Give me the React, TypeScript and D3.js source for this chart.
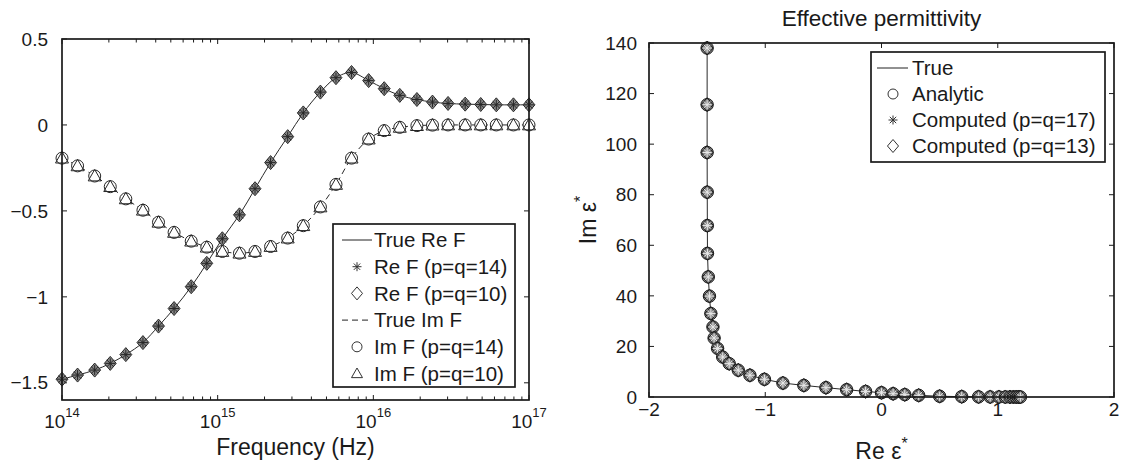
import React, { useRef, useEffect } from "react";
import * as d3 from "d3";

// left panel: log10 of frequency (Hz) at the sample points
const freqExp = [
  14.0, 14.1, 14.21, 14.31, 14.41, 14.52, 14.62, 14.72, 14.83, 14.93,
  15.03, 15.14, 15.24, 15.34, 15.45, 15.55, 15.66, 15.76, 15.86, 15.97,
  16.07, 16.17, 16.28, 16.38, 16.48, 16.59, 16.69, 16.79, 16.9, 17.0,
];
const reF = [
  -1.479, -1.455, -1.426, -1.387, -1.336, -1.266, -1.17, -1.068, -0.941, -0.805,
  -0.662, -0.523, -0.371, -0.219, -0.068, 0.07, 0.191, 0.275, 0.305, 0.258,
  0.211, 0.172, 0.148, 0.133, 0.125, 0.121, 0.119, 0.117, 0.117, 0.117,
];
const imF = [
  -0.193, -0.238, -0.297, -0.359, -0.43, -0.496, -0.566, -0.625, -0.676, -0.711,
  -0.736, -0.746, -0.736, -0.707, -0.658, -0.586, -0.477, -0.346, -0.193, -0.082,
  -0.033, -0.014, -0.004, -0.001, 0.0, 0.0, 0.0, 0.0, 0.0, 0.0,
];

// right panel: effective permittivity
const reEps = [
  -1.5, -1.5, -1.5, -1.499, -1.498, -1.497, -1.49, -1.48, -1.468, -1.45,
  -1.44, -1.41, -1.366, -1.31, -1.232, -1.132, -1.007, -0.848, -0.668, -0.478,
  -0.3, -0.137, 0.0, 0.1, 0.2, 0.32, 0.5, 0.69, 0.835, 0.935,
  1.01, 1.065, 1.105, 1.135, 1.16, 1.18, 1.195,
];
const imEps = [
  138.0, 115.6, 96.7, 81.0, 67.8, 56.8, 47.5, 39.9, 33.0, 27.7,
  23.3, 19.2, 15.8, 13.2, 10.6, 8.6, 7.0, 5.5, 4.6, 3.7,
  2.9, 2.2, 1.7, 1.3, 0.95, 0.66, 0.3, 0.14, 0.06, 0.03,
  0.015, 0.01, 0.005, 0.003, 0.002, 0.001, 0.0,
];

const leftYTicks = [-1.5, -1, -0.5, 0, 0.5];
const decades = [14, 15, 16, 17];
const rightXTicks = [-2, -1, 0, 1, 2];
const rightYTicks = [0, 20, 40, 60, 80, 100, 120, 140];

const leftLegend = ["True Re F", "Re F (p=q=14)", "Re F (p=q=10)", "True Im F", "Im F (p=q=14)", "Im F (p=q=10)"];
const rightLegend = ["True", "Analytic", "Computed (p=q=17)", "Computed (p=q=13)"];

const FONT = "'Liberation Sans', Arial, Helvetica, sans-serif";
const INK = "#1a1a1a";

type Sel = d3.Selection<SVGGElement, unknown, null, undefined>;

function marker(g: Sel, type: string, x: number, y: number, opts: any = {}) {
  const stroke = opts.stroke || INK;
  const fill = opts.fill || "none";
  if (type === "circle") {
    g.append("circle").attr("cx", x).attr("cy", y).attr("r", opts.r || 5.5)
      .attr("fill", fill).attr("stroke", stroke).attr("stroke-width", 1);
  } else if (type === "diamond") {
    const s = opts.r || 6.5;
    g.append("path")
      .attr("d", `M${x},${y - s}L${x + s * 0.85},${y}L${x},${y + s}L${x - s * 0.85},${y}Z`)
      .attr("fill", fill).attr("stroke", stroke).attr("stroke-width", 1);
  } else if (type === "triangle") {
    const s = opts.r || 6;
    g.append("path")
      .attr("d", `M${x},${y - s}L${x + s},${y + s * 0.75}L${x - s},${y + s * 0.75}Z`)
      .attr("fill", fill).attr("stroke", stroke).attr("stroke-width", 1);
  } else if (type === "asterisk") {
    const s = opts.r || 4.5;
    const d = s * 0.71;
    g.append("path")
      .attr("d", `M${x},${y - s}V${y + s}M${x - s},${y}H${x + s}M${x - d},${y - d}L${x + d},${y + d}M${x - d},${y + d}L${x + d},${y - d}`)
      .attr("fill", "none").attr("stroke", stroke).attr("stroke-width", 1);
  }
}

const App = () => {
  const svgRef = useRef<SVGSVGElement>(null);

  useEffect(() => {
    const svg = d3.select(svgRef.current);
    svg.selectAll("*").remove();

    svg.append("rect").attr("width", 1121).attr("height", 466).attr("fill", "#fff");

    // ---------- left panel ----------
    const L = { left: 62, right: 529, top: 39, bottom: 400 };
    const x1 = d3.scaleLog().domain([1e14, 1e17]).range([L.left, L.right]);
    const y1 = d3.scaleLinear().domain([-1.6, 0.5]).range([L.bottom, L.top]);
    const g1 = svg.append("g") as unknown as Sel;

    // ticks (inside, on all sides)
    decades.forEach((d) => {
      const xx = x1(Math.pow(10, d));
      g1.append("line").attr("x1", xx).attr("x2", xx).attr("y1", L.bottom).attr("y2", L.bottom - 5).attr("stroke", INK);
      g1.append("line").attr("x1", xx).attr("x2", xx).attr("y1", L.top).attr("y2", L.top + 5).attr("stroke", INK);
      const t = g1.append("text").attr("x", xx).attr("y", 428).attr("text-anchor", "middle")
        .attr("font-family", FONT).attr("font-size", 19).attr("fill", INK);
      t.append("tspan").text("10");
      t.append("tspan").attr("dy", -11).attr("font-size", 13).text(String(d));
      if (d < 17) {
        for (let k = 2; k <= 9; k++) {
          const mx = x1(k * Math.pow(10, d));
          g1.append("line").attr("x1", mx).attr("x2", mx).attr("y1", L.bottom).attr("y2", L.bottom - 3.5).attr("stroke", INK);
          g1.append("line").attr("x1", mx).attr("x2", mx).attr("y1", L.top).attr("y2", L.top + 3.5).attr("stroke", INK);
        }
      }
    });
    leftYTicks.forEach((v) => {
      const yy = y1(v);
      g1.append("line").attr("x1", L.left).attr("x2", L.left + 5).attr("y1", yy).attr("y2", yy).attr("stroke", INK);
      g1.append("line").attr("x1", L.right).attr("x2", L.right - 5).attr("y1", yy).attr("y2", yy).attr("stroke", INK);
      g1.append("text").attr("x", 48).attr("y", yy).attr("dy", "0.35em").attr("text-anchor", "end")
        .attr("font-family", FONT).attr("font-size", 19).attr("fill", INK)
        .text(v === 0 ? "0" : d3.format("")(v).replace("-", "\u2212"));
    });

    const reLine = d3.line<number>().x((_, i) => x1(Math.pow(10, freqExp[i]))).y((v) => y1(v)).curve(d3.curveCatmullRom);
    g1.append("path").attr("d", reLine(reF)).attr("fill", "none").attr("stroke", "#2a2a2a").attr("stroke-width", 1);
    g1.append("path").attr("d", reLine(imF)).attr("fill", "none").attr("stroke", "#2a2a2a").attr("stroke-width", 1)
      .attr("stroke-dasharray", "6,4");

    freqExp.forEach((e, i) => {
      const xx = x1(Math.pow(10, e));
      marker(g1, "diamond", xx, y1(reF[i]), { r: 7, fill: "#868686", stroke: "#262626" });
      marker(g1, "asterisk", xx, y1(reF[i]), { r: 5, stroke: "#262626" });
    });
    freqExp.forEach((e, i) => {
      const xx = x1(Math.pow(10, e));
      marker(g1, "circle", xx, y1(imF[i]), { r: 6, fill: "#fff", stroke: "#262626" });
      marker(g1, "triangle", xx, y1(imF[i]), { r: 6.5, stroke: "#262626" });
    });

    g1.append("rect").attr("x", L.left).attr("y", L.top).attr("width", L.right - L.left).attr("height", L.bottom - L.top)
      .attr("fill", "none").attr("stroke", INK).attr("stroke-width", 1.7);

    g1.append("text").attr("x", (L.left + L.right) / 2).attr("y", 455).attr("text-anchor", "middle")
      .attr("font-family", FONT).attr("font-size", 23).attr("fill", INK).text("Frequency (Hz)");

    // left legend
    const lg = { x: 333, y: 224, w: 182, h: 163, row: 26.7 };
    g1.append("rect").attr("x", lg.x).attr("y", lg.y).attr("width", lg.w).attr("height", lg.h)
      .attr("fill", "#fff").attr("stroke", INK).attr("stroke-width", 1.7);
    const lTypes = ["line", "asterisk", "diamond", "dash", "circle", "triangle"];
    leftLegend.forEach((label, i) => {
      const yy = lg.y + 16 + i * lg.row;
      const t = lTypes[i];
      if (t === "line" || t === "dash") {
        g1.append("line").attr("x1", 342).attr("x2", 372).attr("y1", yy).attr("y2", yy)
          .attr("stroke", "#222").attr("stroke-width", 1).attr("stroke-dasharray", t === "dash" ? "6,4" : null);
      } else {
        marker(g1, t, 357, yy, { stroke: "#333", r: t === "diamond" ? 6.5 : t === "circle" ? 5 : t === "triangle" ? 5.5 : 4.5 });
      }
      g1.append("text").attr("x", 374).attr("y", yy).attr("dy", "0.36em")
        .attr("font-family", FONT).attr("font-size", 20.5).attr("fill", INK).text(label);
    });

    // ---------- right panel ----------
    const R = { left: 649, right: 1114, top: 43, bottom: 397 };
    const x2 = d3.scaleLinear().domain([-2, 2]).range([R.left, R.right]);
    const y2 = d3.scaleLinear().domain([0, 140]).range([R.bottom, R.top]);
    const g2 = svg.append("g") as unknown as Sel;

    rightXTicks.forEach((v) => {
      const xx = x2(v);
      g2.append("line").attr("x1", xx).attr("x2", xx).attr("y1", R.bottom).attr("y2", R.bottom - 5).attr("stroke", INK);
      g2.append("line").attr("x1", xx).attr("x2", xx).attr("y1", R.top).attr("y2", R.top + 5).attr("stroke", INK);
      g2.append("text").attr("x", xx).attr("y", 416).attr("text-anchor", "middle")
        .attr("font-family", FONT).attr("font-size", 19).attr("fill", INK)
        .text(String(v).replace("-", "\u2212"));
    });
    rightYTicks.forEach((v) => {
      const yy = y2(v);
      g2.append("line").attr("x1", R.left).attr("x2", R.left + 5).attr("y1", yy).attr("y2", yy).attr("stroke", INK);
      g2.append("line").attr("x1", R.right).attr("x2", R.right - 5).attr("y1", yy).attr("y2", yy).attr("stroke", INK);
      g2.append("text").attr("x", 637).attr("y", yy).attr("dy", "0.35em").attr("text-anchor", "end")
        .attr("font-family", FONT).attr("font-size", 19).attr("fill", INK).text(String(v));
    });

    const epsLine = d3.line<number>().x((v) => x2(v)).y((_, i) => y2(imEps[i]));
    g2.append("path").attr("d", epsLine(reEps)).attr("fill", "none").attr("stroke", "#2a2a2a").attr("stroke-width", 1);

    reEps.forEach((v, i) => {
      const xx = x2(v);
      const yy = y2(imEps[i]);
      marker(g2, "circle", xx, yy, { r: 6.2, fill: "#858585", stroke: "#1a1a1a" });
      marker(g2, "diamond", xx, yy, { r: 7, stroke: "#1a1a1a" });
      marker(g2, "asterisk", xx, yy, { r: 4.5, stroke: "#e8e8e8" });
    });

    g2.append("rect").attr("x", R.left).attr("y", R.top).attr("width", R.right - R.left).attr("height", R.bottom - R.top)
      .attr("fill", "none").attr("stroke", INK).attr("stroke-width", 1.7);

    g2.append("text").attr("x", (R.left + R.right) / 2).attr("y", 26).attr("text-anchor", "middle")
      .attr("font-family", FONT).attr("font-size", 22.5).attr("fill", INK).text("Effective permittivity");

    const xl = g2.append("text").attr("x", (R.left + R.right) / 2).attr("y", 459).attr("text-anchor", "middle")
      .attr("font-family", FONT).attr("font-size", 23).attr("fill", INK);
    xl.append("tspan").text("Re \u03b5");
    xl.append("tspan").attr("dy", -10).attr("font-size", 16).text("*");

    const yl = g2.append("text").attr("transform", `translate(596,${(R.top + R.bottom) / 2}) rotate(-90)`)
      .attr("text-anchor", "middle").attr("font-family", FONT).attr("font-size", 23).attr("fill", INK);
    yl.append("tspan").text("Im \u03b5");
    yl.append("tspan").attr("dy", -10).attr("font-size", 16).text("*");

    // right legend
    const rg = { x: 871, y: 52, w: 234, h: 110, row: 26 };
    g2.append("rect").attr("x", rg.x).attr("y", rg.y).attr("width", rg.w).attr("height", rg.h)
      .attr("fill", "#fff").attr("stroke", INK).attr("stroke-width", 1.7);
    const rTypes = ["line", "circle", "asterisk", "diamond"];
    rightLegend.forEach((label, i) => {
      const yy = rg.y + 16 + i * rg.row;
      const t = rTypes[i];
      if (t === "line") {
        g2.append("line").attr("x1", 877).attr("x2", 908).attr("y1", yy).attr("y2", yy)
          .attr("stroke", "#222").attr("stroke-width", 1);
      } else {
        marker(g2, t, 893, yy, { stroke: "#333", r: t === "diamond" ? 6.5 : t === "circle" ? 5 : 4.5 });
      }
      g2.append("text").attr("x", 912).attr("y", yy).attr("dy", "0.36em")
        .attr("font-family", FONT).attr("font-size", 20.5).attr("fill", INK).text(label);
    });
  }, []);

  return (
    <svg
      ref={svgRef}
      width={1121}
      height={466}
      style={{ position: "absolute", left: 0, top: 0, display: "block" }}
    />
  );
};

export default App;
